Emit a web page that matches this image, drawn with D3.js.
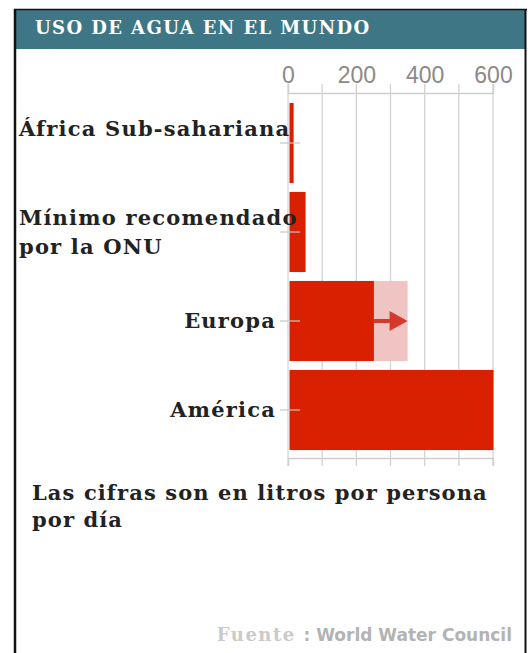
<!DOCTYPE html>
<html>
<head>
<meta charset="utf-8">
<script src="https://cdn.jsdelivr.net/npm/d3@7"></script>
<style>
  body { margin: 0; background: #fff; }
  svg { display: block; }
</style>
</head>
<body>
<div id="chart"></div>
<script>
// data (litros por persona por día)
const categories = [
  ["África Sub-sahariana", ""],
  ["Mínimo recomendado", "por la ONU"],
  ["Europa"],
  ["América"]
];
const values = [15, 50, 250, 600];
const projected = [null, null, 350, null];
const tickValues = [0, 200, 400, 600];
const gridValues = [0, 100, 200, 300, 400, 500, 600];
const title = "USO DE AGUA EN EL MUNDO";
const note = ["Las cifras son en litros por persona", "por día"];

const W = 531, H = 653;
const serif = "'DejaVu Serif', serif";

const svg = d3.select("#chart").append("svg")
  .attr("width", W)
  .attr("height", H);

// frame + header
svg.append("rect").attr("x", 15).attr("y", 9).attr("width", 511).attr("height", 40)
  .attr("fill", "#3e7686");
svg.append("line").attr("x1", 14).attr("x2", 527).attr("y1", 9.5).attr("y2", 9.5)
  .attr("stroke", "#111").attr("stroke-width", 1.5);
svg.append("line").attr("x1", 15).attr("x2", 15).attr("y1", 9).attr("y2", H)
  .attr("stroke", "#111").attr("stroke-width", 2.5);
svg.append("line").attr("x1", 525.5).attr("x2", 525.5).attr("y1", 9).attr("y2", H)
  .attr("stroke", "#111").attr("stroke-width", 2);
svg.append("text")
  .attr("x", 35).attr("y", 34)
  .attr("fill", "#fff")
  .style("font-family", serif).style("font-weight", "bold").style("font-size", "18px")
  .style("letter-spacing", "1.4px")
  .text(title);

const x = d3.scaleLinear().domain([0, 600]).range([288, 493]);
const y = d3.scaleBand()
  .domain(categories.map(c => c.join(" ")))
  .range([98.5, 454.5])
  .paddingInner(0.1)
  .paddingOuter(0.05);

const rows = categories.map((c, i) => ({
  key: c.join(" "), lines: c, value: values[i], proj: projected[i]
}));

// grid lines
svg.append("g").selectAll("line")
  .data(gridValues)
  .join("line")
  .attr("x1", d => x(d)).attr("x2", d => x(d))
  .attr("y1", 84).attr("y2", 466)
  .attr("stroke", "#d4d4d4").attr("stroke-width", 1.3);

// top axis
const topAxis = svg.append("g").attr("transform", "translate(0,93)")
  .call(d3.axisTop(x).tickValues(gridValues).tickSize(9).tickFormat(d => tickValues.includes(d) ? d : ""));
topAxis.select(".domain").attr("stroke", "#cfcfcf").attr("stroke-width", 1.5);
topAxis.selectAll(".tick line").attr("stroke", "none");
topAxis.selectAll(".tick text")
  .attr("fill", "#8a8a8a")
  .attr("y", -10)
  .style("font-family", "'Liberation Sans', Arial, sans-serif")
  .style("font-size", "23px");

// bottom axis
const bottomAxis = svg.append("g").attr("transform", "translate(0,458)")
  .call(d3.axisBottom(x).tickValues(gridValues).tickSize(8).tickFormat(""));
bottomAxis.select(".domain").attr("stroke", "#cfcfcf").attr("stroke-width", 1.5);
bottomAxis.selectAll(".tick line").attr("stroke", "none");

// projected extension
svg.append("g").selectAll("rect")
  .data(rows.filter(r => r.proj != null))
  .join("rect")
  .attr("x", d => x(d.value))
  .attr("y", d => y(d.key))
  .attr("width", d => x(d.proj) - x(d.value))
  .attr("height", y.bandwidth())
  .attr("fill", "#f1c4c4");

// bars
svg.append("g").selectAll("rect")
  .data(rows)
  .join("rect")
  .attr("x", x(0) + 1.5)
  .attr("y", d => y(d.key))
  .attr("width", d => x(d.value) - x(0) - 1)
  .attr("height", y.bandwidth())
  .attr("fill", "#d92000");

// arrows
const arr = svg.append("g").selectAll("g")
  .data(rows.filter(r => r.proj != null))
  .join("g");
arr.append("line")
  .attr("x1", d => x(d.value)).attr("x2", d => x(d.proj) - 16)
  .attr("y1", d => y(d.key) + y.bandwidth() / 2)
  .attr("y2", d => y(d.key) + y.bandwidth() / 2)
  .attr("stroke", "#d43a2c").attr("stroke-width", 4);
arr.append("path")
  .attr("d", d => {
    const cy = y(d.key) + y.bandwidth() / 2, xe = x(d.proj);
    return `M${xe - 18},${cy - 10}L${xe},${cy}L${xe - 18},${cy + 10}Z`;
  })
  .attr("fill", "#d43a2c");

// category ticks
svg.append("g").selectAll("line")
  .data(rows)
  .join("line")
  .attr("x1", 280).attr("x2", 300)
  .attr("y1", d => y(d.key) + y.bandwidth() / 2)
  .attr("y2", d => y(d.key) + y.bandwidth() / 2)
  .attr("stroke", "#c8c8c8").attr("stroke-opacity", 0.8).attr("stroke-width", 1.5);

// category labels
const lineH = 29;
const labels = svg.append("g").selectAll("text")
  .data(rows)
  .join("text")
  .attr("fill", "#222")
  .style("font-family", serif).style("font-weight", "bold").style("font-size", "21px")
  .style("letter-spacing", "1.2px");
labels.each(function(d) {
  const t = d3.select(this);
  const cy = y(d.key) + y.bandwidth() / 2;
  const n = d.lines.length;
  d.lines.forEach((s, j) => {
    t.append("tspan")
      .attr("y", cy + (j - (n - 1) / 2) * lineH)
      .attr("dy", "0.35em")
      .text(s);
  });
  let widest = 0;
  t.selectAll("tspan").each(function() { widest = Math.max(widest, this.getComputedTextLength()); });
  const right = 276, left = 19;
  if (right - widest < left) {
    t.attr("text-anchor", "start");
    t.selectAll("tspan").attr("x", left);
  } else {
    t.attr("text-anchor", "end");
    t.selectAll("tspan").attr("x", right);
  }
});

// note
svg.append("g").selectAll("text")
  .data(note)
  .join("text")
  .attr("x", 32)
  .attr("y", (d, i) => 500 + i * 27)
  .attr("fill", "#222")
  .style("font-family", serif).style("font-weight", "bold").style("font-size", "21px")
  .style("letter-spacing", "1.1px")
  .text(d => d);

// source
const src = svg.append("text")
  .attr("x", 512).attr("y", 641)
  .attr("text-anchor", "end")
  .style("font-weight", "bold");
src.append("tspan")
  .attr("fill", "#cacaca")
  .style("font-family", serif).style("font-size", "18px")
  .style("letter-spacing", "1.5px")
  .text("Fuente ");
src.append("tspan")
  .attr("fill", "#b3b3b3")
  .style("font-family", "'DejaVu Sans', sans-serif").style("font-size", "17px")
  .text(": World Water Council");
</script>
</body>
</html>
